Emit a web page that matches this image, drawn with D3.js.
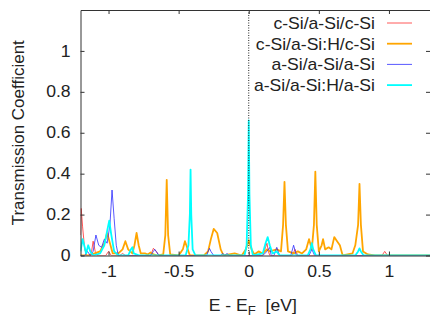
<!DOCTYPE html>
<html>
<head>
<meta charset="utf-8">
<script src="https://cdn.jsdelivr.net/npm/d3@7"></script>
<style>
  body { margin: 0; background: #fff; }
  text { font-family: "Liberation Sans", Arial, sans-serif; fill: #222; }
</style>
</head>
<body>
<div id="chart"></div>
<script>
// tick values and legend names
var xTicks = [-1, -0.5, 0, 0.5, 1],
    yTicks = [0, 0.2, 0.4, 0.6, 0.8, 1],
    seriesNames = ['c-Si/a-Si/c-Si', 'c-Si/a-Si:H/c-Si', 'a-Si/a-Si/a-Si', 'a-Si/a-Si:H/a-Si'];

// [E - EF, T]
var redData = [[-1.2,0.1],[-1.195,0.23],[-1.185,0.14],[-1.17,0.03],[-1.155,0.0],[-1.125,0.0],[-1.11,0.07],[-1.095,0.02],[-1.08,0.0],
    [-1.02,0.0],[-1.0,0.02],[-0.98,0.0],[-0.92,0.0],[-0.9,0.01],[-0.88,0.0],[-0.7,0.0],[-0.68,0.035],[-0.66,0.02],[-0.64,0.0],
    [0.1,0.0],[0.12,0.04],[0.13,0.06],[0.14,0.02],[0.15,0.0],[0.31,0.0],[0.33,0.03],[0.35,0.0],[0.95,0.0],[0.97,0.02],[0.99,0.0],[1.3,0.0]];

var orangeData = [[-1.2,0.0],[-1.15,0.0],[-1.1,0.01],[-1.06,0.02],[-1.03,0.06],[-1.01,0.11],[-0.99,0.06],[-0.97,0.01],[-0.93,0.01],
    [-0.9,0.03],[-0.88,0.07],[-0.86,0.03],[-0.83,0.01],[-0.815,0.05],[-0.8,0.11],[-0.785,0.05],[-0.77,0.01],[-0.74,0.01],[-0.72,0.005],
    [-0.7,0.015],[-0.68,0.005],[-0.65,0.0],[-0.61,0.005],[-0.595,0.1],[-0.585,0.37],[-0.575,0.1],[-0.56,0.005],[-0.5,0.0],
    [-0.47,0.03],[-0.455,0.07],[-0.44,0.04],[-0.42,0.0],[-0.32,0.0],[-0.29,0.02],[-0.27,0.08],[-0.25,0.13],[-0.225,0.11],[-0.2,0.03],
    [-0.18,0.0],[-0.1,0.01],[-0.05,0.0],[-0.02,0.03],[0.0,0.075],[0.02,0.03],[0.04,0.005],[0.07,0.02],[0.1,0.01],[0.13,0.03],
    [0.15,0.02],[0.2,0.03],[0.23,0.02],[0.245,0.15],[0.255,0.36],[0.265,0.15],[0.28,0.02],[0.32,0.01],[0.35,0.02],[0.38,0.01],
    [0.41,0.03],[0.43,0.08],[0.45,0.03],[0.465,0.15],[0.475,0.41],[0.485,0.15],[0.5,0.02],[0.52,0.05],[0.53,0.08],[0.545,0.03],
    [0.57,0.04],[0.59,0.03],[0.61,0.09],[0.63,0.07],[0.65,0.05],[0.67,0.0],[0.74,0.01],[0.76,0.05],[0.78,0.15],[0.79,0.35],
    [0.8,0.15],[0.815,0.02],[0.85,0.005],[0.9,0.0],[1.3,0.0]];

var blueData = [[-1.2,0.0],[-1.17,0.0],[-1.15,0.02],[-1.13,0.0],[-1.11,0.02],[-1.09,0.1],[-1.07,0.05],[-1.05,0.04],[-1.03,0.08],
    [-1.01,0.06],[-0.99,0.15],[-0.975,0.32],[-0.96,0.18],[-0.945,0.05],[-0.93,0.0],[-0.7,0.0],[-0.68,0.02],[-0.67,0.03],[-0.66,0.02],
    [-0.64,0.0],[-0.3,0.0],[-0.29,0.02],[-0.28,0.035],[-0.27,0.02],[-0.25,0.0],[-0.2,0.0],[-0.185,0.01],[-0.17,0.0],[-0.155,0.01],
    [-0.14,0.0],[0.1,0.0],[0.13,0.02],[0.15,0.04],[0.16,0.0],[0.18,0.0],[0.2,0.04],[0.22,0.0],[0.3,0.0],[0.32,0.05],[0.34,0.0],
    [0.43,0.0],[0.45,0.03],[0.47,0.0],[1.3,0.0]];

var cyanData = [[-1.2,0.02],[-1.185,0.08],[-1.17,0.04],[-1.16,0.01],[-1.145,0.05],[-1.13,0.02],[-1.11,0.0],[-1.06,0.01],[-1.03,0.05],
    [-1.01,0.12],[-0.995,0.17],[-0.98,0.1],[-0.96,0.02],[-0.93,0.0],[-0.86,0.0],[-0.84,0.03],[-0.83,0.04],[-0.82,0.01],[-0.78,0.0],
    [-0.45,0.0],[-0.43,0.05],[-0.42,0.2],[-0.415,0.42],[-0.41,0.2],[-0.4,0.03],[-0.38,0.0],[-0.03,0.0],[-0.015,0.05],[-0.005,0.3],
    [0.0,0.66],[0.005,0.3],[0.015,0.05],[0.03,0.0],[0.1,0.01],[0.12,0.06],[0.135,0.09],[0.15,0.05],[0.17,0.01],[0.2,0.02],[0.22,0.0],
    [0.42,0.0],[0.44,0.03],[0.45,0.06],[0.46,0.03],[0.48,0.0],[0.76,0.0],[0.78,0.02],[0.79,0.035],[0.8,0.02],[0.82,0.0],[1.3,0.0]];

var allSeries = [redData, orangeData, blueData, cyanData],
    colors = ['#ff2020', '#ffa500', '#2020ff', '#00ffff'],
    widths = [1, 1.8, 1, 1.8],
    opacities = [0.75, 1, 0.75, 1];

var w = 430, h = 320,
    plotLeft = 80.5, plotRight = 431, plotTop = 10, plotBottom = 255.5,
    sx = 1.1; // text in the picture is a bit stretched sideways

var x = d3.scaleLinear().domain([-1.2, 1.3]).range([plotLeft, plotRight]),
    y = d3.scaleLinear().domain([0, 1.2]).range([plotBottom, plotTop]);

var svg = d3.select('#chart').append('svg')
    .attr('width', w)
    .attr('height', h);

svg.append('clipPath').attr('id', 'clip')
  .append('rect')
    .attr('x', plotLeft).attr('y', plotTop)
    .attr('width', plotRight - plotLeft).attr('height', plotBottom - plotTop);

// curves
var line = d3.line()
    .x(function(d){ return x(d[0]); })
    .y(function(d){ return y(d[1]); });

svg.append('g')
    .attr('clip-path', 'url(#clip)')
  .selectAll('path')
    .data(allSeries)
  .enter().append('path')
    .attr('d', line)
    .attr('fill', 'none')
    .attr('stroke', function(d, i){ return colors[i]; })
    .attr('stroke-width', function(d, i){ return widths[i]; })
    .attr('stroke-opacity', function(d, i){ return opacities[i]; })
    .attr('stroke-linejoin', 'round');

// dotted line at E = EF
svg.append('line')
    .attr('x1', x(0)).attr('x2', x(0))
    .attr('y1', plotTop).attr('y2', plotBottom)
    .attr('stroke', '#222')
    .attr('stroke-width', 1)
    .attr('stroke-dasharray', '1,1.5');

// frame and inward ticks
var axisColor = '#333',
    plain = function(d){ return String(d); };

svg.append('g')
    .attr('transform', 'translate(0,' + plotBottom + ')')
    .call(d3.axisBottom(x).tickValues(xTicks).tickSizeInner(-4).tickSizeOuter(0).tickPadding(10).tickFormat(plain));
svg.append('g')
    .attr('transform', 'translate(0,' + plotTop + ')')
    .call(d3.axisTop(x).tickValues(xTicks).tickSizeInner(-4).tickSizeOuter(0).tickFormat(''));
svg.append('g')
    .attr('transform', 'translate(' + plotLeft + ',0)')
    .call(d3.axisLeft(y).tickValues(yTicks).tickSizeInner(-4).tickSizeOuter(0).tickPadding(9).tickFormat(plain));
svg.append('g')
    .attr('transform', 'translate(' + (plotRight - 1) + ',0)')
    .call(d3.axisRight(y).tickValues(yTicks).tickSizeInner(-4).tickSizeOuter(0).tickFormat(''));

svg.selectAll('.domain, .tick line').attr('stroke', axisColor);
svg.selectAll('.tick text')
    .style('font-size', '16px')
    .style('font-family', '"Liberation Sans", Arial, sans-serif')
    .attr('fill', '#222')
    .attr('transform', 'scale(' + sx + ',1)');

// axis titles
svg.append('text')
    .attr('transform', 'translate(24,' + ((plotTop + plotBottom) / 2) + ') rotate(-90)')
    .attr('text-anchor', 'middle')
    .style('font-size', '17px')
    .text('Transmission Coefficient');

var xTitle = svg.append('text')
    .attr('transform', 'translate(' + ((plotLeft + plotRight) / 2 - 3) + ',311) scale(' + sx + ',1)')
    .attr('text-anchor', 'middle')
    .style('font-size', '16px');
xTitle.append('tspan').text('E - E');
xTitle.append('tspan').attr('dy', 4).style('font-size', '12px').text('F');
xTitle.append('tspan').attr('dy', -4).text('\u00a0\u00a0[eV]');

// legend
var legend = svg.selectAll('.legend')
    .data(seriesNames)
  .enter().append('g')
    .attr('class', 'legend')
    .attr('transform', function(d, i){ return 'translate(0,' + (23 + i * 20.7) + ')'; });

legend.append('text')
    .attr('transform', 'translate(375,6) scale(' + sx + ',1)')
    .attr('text-anchor', 'end')
    .style('font-size', '16px')
    .text(function(d){ return d; });

legend.append('line')
    .attr('x1', 387).attr('x2', 412)
    .attr('stroke', function(d, i){ return colors[i]; })
    .attr('stroke-width', function(d, i){ return widths[i]; })
    .attr('stroke-opacity', function(d, i){ return opacities[i]; });
</script>
</body>
</html>
